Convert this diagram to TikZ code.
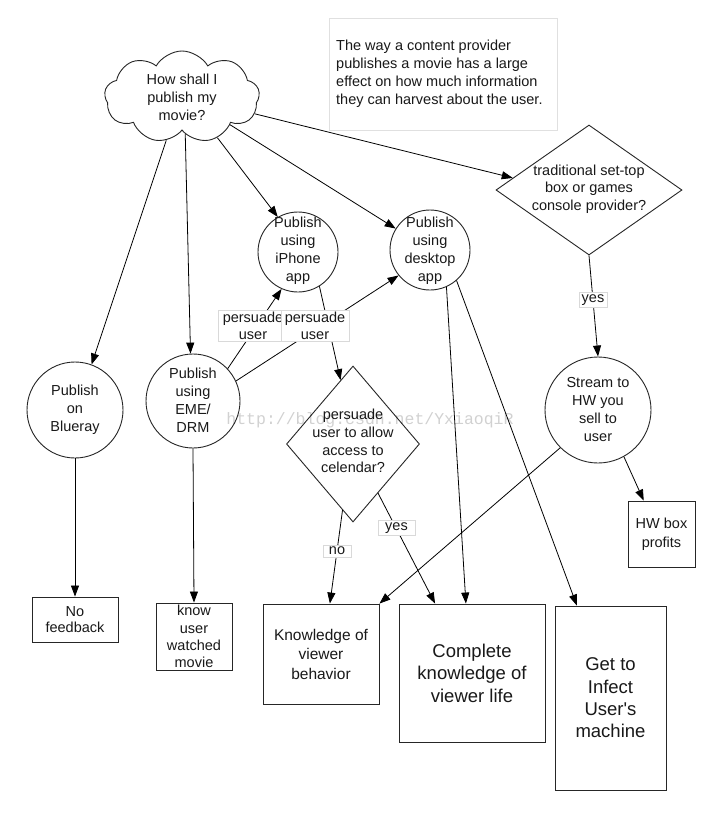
\documentclass[tikz,border=0pt]{standalone}
\usepackage{fontspec}
\setmainfont{Liberation Sans}
\newfontfamily\wmfont{Liberation Mono}
\usetikzlibrary{shapes.geometric,shapes.symbols,arrows.meta}
\begin{document}
\begin{tikzpicture}[x=1pt,y=-1pt,
  every node/.style={font=\fontsize{14.5}{18}\selectfont, text=black!90},
  line/.style={draw=black, line width=0.8pt},
  arr/.style={line, -{Triangle[length=11pt,width=8pt]}},
  shapeline/.style={draw=black!85, line width=0.9pt, fill=white},
  circnode/.style={circle, shapeline, inner sep=0pt},
  boxnode/.style={rectangle, shapeline, inner sep=0pt, align=center},
  dianode/.style={diamond, shapeline, inner sep=0pt},
  txt/.style={align=center, inner sep=0pt},
  lab/.style={fill=white, draw=black!15, line width=0.5pt, inner xsep=4pt, inner ysep=2pt, align=center, font=\fontsize{14.5}{16.5}\selectfont}
]
\useasboundingbox[fill=white] (0,0) rectangle (720,820);

% note
\node[rectangle, draw=black!12, line width=0.6pt, minimum width=228pt, minimum height=112pt, inner sep=0pt] (note) at (443,74) {};
\node[align=left, anchor=west, inner sep=0pt] (notetxt) at (336,74)
  {The way a content provider\\publishes a movie has a large\\effect on how much information\\they can harvest about the user.};

% cloud
\node[cloud, cloud puffs=9, cloud puff arc=120, cloud ignores aspect, shapeline,
      minimum width=155pt, minimum height=92pt, inner sep=0pt] (cloud) at (182,97) {};
\node[txt] (cloudtxt) at (182,97) {How shall I\\publish my\\movie?};

% circles
\node[circnode, minimum size=80pt] (iphone) at (298,252) {};
\node[txt] (iphonetxt) at (298,251) {Publish\\using\\iPhone\\app};
\node[circnode, minimum size=80pt] (desktop) at (430,250) {};
\node[txt] (desktoptxt) at (430,251) {Publish\\using\\desktop\\app};
\node[circnode, minimum size=96pt] (blueray) at (75,410) {};
\node[txt] (bluetxt) at (75,410) {Publish\\on\\Blueray};
\node[circnode, minimum size=94pt] (eme) at (193,401) {};
\node[txt] (emetxt) at (193,400) {Publish\\using\\EME/\\DRM};
\node[circnode, minimum size=106pt] (stream) at (598,410) {};
\node[txt] (streamtxt) at (598,410) {Stream to\\HW you\\sell to\\user};

% diamonds
\node[dianode, minimum width=186pt, minimum height=130pt] (settop) at (589,190) {};
\node[txt, font=\fontsize{14.5}{17.5}\selectfont] (settoptxt) at (589,189) {traditional set-top\\box or games\\console provider?};
\node[dianode, minimum width=133pt, minimum height=156pt] (cal) at (353,444) {};
\node[txt, font=\fontsize{14.5}{17.7}\selectfont] (caltxt) at (353,441) {persuade\\user to allow\\access to\\celendar?};

% boxes
\node[boxnode, minimum width=86pt, minimum height=45pt, font=\fontsize{14.5}{16}\selectfont] (nofb) at (75,619.5) {No\\feedback};
\node[boxnode, minimum width=76pt, minimum height=67pt, font=\fontsize{14.5}{17.3}\selectfont] (know) at (194,636.5) {know\\user\\watched\\movie};
\node[boxnode, minimum width=116pt, minimum height=100pt, font=\fontsize{15.5}{19.5}\selectfont] (kb) at (321,654) {Knowledge of\\viewer\\behavior};
\node[boxnode, minimum width=146pt, minimum height=138pt, font=\fontsize{18.5}{22.5}\selectfont] (comp) at (472,673) {Complete\\knowledge of\\viewer life};
\node[boxnode, minimum width=111pt, minimum height=184pt, font=\fontsize{18.5}{22.3}\selectfont] (inf) at (610.5,698) {Get to\\Infect\\User\textquotesingle s\\machine};
\node[boxnode, minimum width=67pt, minimum height=66pt, font=\fontsize{14.5}{19}\selectfont] (hw) at (661.5,534) {HW box\\profits};

% connectors
\draw[arr] (cloud.250) -- (blueray.70);
\draw[arr] (cloud.275) -- (eme.93);
\draw[arr] (cloud.311) -- (iphone.120);
\draw[arr] (cloud.330) -- (desktop.148);
\draw[arr] (cloud.347) -- (settop.171);
\draw[arr] (eme.43) -- (iphone.246);
\draw[arr] (eme.25) -- (desktop.219);
\draw[arr] (iphone.302) -- (cal.101);
\draw[arr] (cal.261) -- (kb.80);
\draw[arr] (cal.297) -- (comp.118);
\draw[arr] (desktop.294) -- (comp.95);
\draw[arr] (desktop.311) -- (inf.110);
\draw[arr] (stream.225) -- (kb.north east);
\draw[arr] (settop.south) -- (stream.north);
\draw[arr] (stream.299) -- (hw.118);
\draw[arr] (blueray.south) -- (nofb.north);
\draw[arr] (eme.south) -- (know.north);

% labels
\node[lab, inner xsep=5pt] (lab1) at (253,326) {persuade\\user};
\node[lab] (lab2) at (315,326) {persuade\\user};
\node[lab, inner xsep=2.5pt] (yes1) at (593,300) {yes};
\node[lab, inner xsep=7pt] (yes2) at (396.5,528) {yes};
\node[lab, inner xsep=6pt] (no1) at (337,551) {no};

% watermark
\node[font=\wmfont\fontsize{16.5}{18}\selectfont, text=black, text opacity=0.18] (wm) at (370,420) {http://blog.csdn.net/YxiaoqiR};
\end{tikzpicture}
\end{document}
